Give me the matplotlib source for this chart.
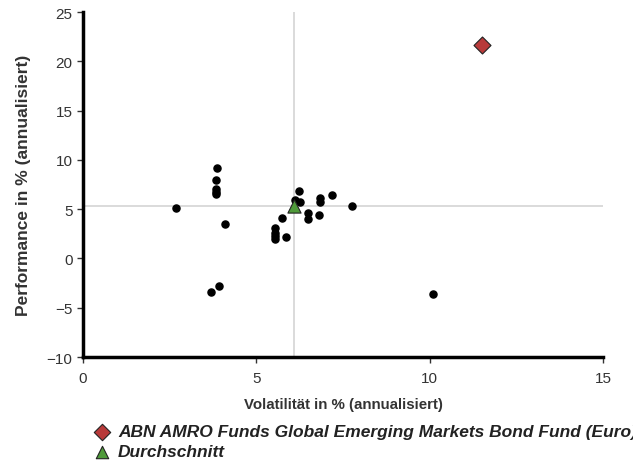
import matplotlib
matplotlib.use('Agg')
import matplotlib.pyplot as plt

# peer funds: volatility / performance (% annualised)
vol = [2.68, 3.87, 3.84, 3.84, 3.84, 3.84, 4.10, 3.92, 3.69,
       5.55, 5.55, 5.55, 5.55, 5.87, 5.74, 6.23, 6.13, 6.25,
       6.49, 6.49, 6.81, 6.84, 6.84, 7.19, 7.77, 10.1]
perf = [5.14, 9.13, 7.91, 7.0, 6.77, 6.5, 3.48, -2.77, -3.41,
        3.08, 2.6, 2.27, 1.93, 2.13, 4.13, 6.87, 5.98, 5.71,
        4.63, 3.96, 4.4, 6.15, 5.72, 6.43, 5.31, -3.65]

fund_name = 'ABN AMRO Funds Global Emerging Markets Bond Fund (Euro)'
fund_vol, fund_perf = 11.51, 21.7
avg_name = 'Durchschnitt'
avg_vol, avg_perf = 6.09, 5.3

plt.rcParams['font.family'] = ['Liberation Sans', 'DejaVu Sans']

fig = plt.figure(figsize=(6.33, 4.64), dpi=100)
ax = fig.add_axes([0.1311, 0.2284, 0.8215, 0.7435])

ax.axvline(avg_vol, color='#d4d4d4', lw=1.2, zorder=0)
ax.axhline(avg_perf, color='#d4d4d4', lw=1.2, zorder=0)

ax.scatter(vol, perf, s=26, color='black', zorder=3)
ax.scatter([fund_vol], [fund_perf], marker='D', s=75, color='#b83a3a',
           edgecolors='#222222', linewidths=0.8, zorder=4)
ax.scatter([avg_vol], [avg_perf], marker='^', s=90, color='#4f9a3a',
           edgecolors='#222222', linewidths=0.8, zorder=4)

ax.set_xlim(0, 15)
ax.set_ylim(-10, 25)
ax.set_xticks([0, 5, 10, 15])
ax.set_yticks([-10, -5, 0, 5, 10, 15, 20, 25])
for s in ['top', 'right']:
    ax.spines[s].set_visible(False)
for s in ['left', 'bottom']:
    ax.spines[s].set_linewidth(2.5)
ax.tick_params(length=4, width=1, labelsize=11, colors='#333333')
ax.tick_params(axis='x', pad=6)
ax.set_xlabel('Volatilität in % (annualisiert)', fontsize=10.8,
              fontweight='bold', color='#333333', labelpad=9)
ax.set_ylabel('Performance in % (annualisiert)', fontsize=12.5,
              fontweight='bold', color='#333333', labelpad=11)

# legend below the chart
lax = fig.add_axes([0, 0, 1, 1], facecolor='none')
lax.set_axis_off()
lax.set_xlim(0, 633)
lax.set_ylim(464, 0)
lax.scatter([102], [433], marker='D', s=70, color='#b83a3a',
            edgecolors='#222222', linewidths=0.8)
lax.scatter([102], [453], marker='^', s=80, color='#4f9a3a',
            edgecolors='#222222', linewidths=0.8)
lax.text(118, 433, fund_name, fontsize=12.5, style='italic',
         fontweight='bold', color='#222222', va='center')
lax.text(118, 453, avg_name, fontsize=12.5, style='italic',
         fontweight='bold', color='#222222', va='center')

fig.savefig('out.png', dpi=100)
